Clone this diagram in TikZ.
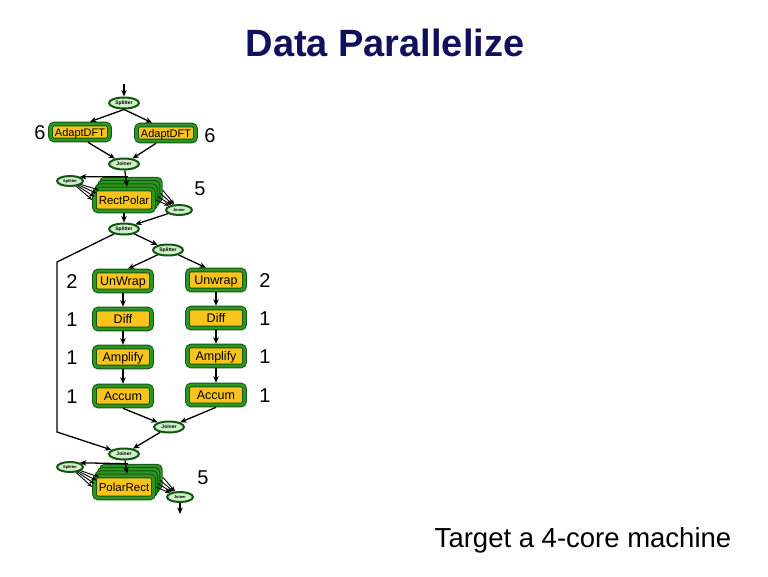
\documentclass[tikz,border=0pt]{standalone}
\usepackage{fontspec}
\setmainfont{Liberation Sans}
\usetikzlibrary{arrows.meta,shapes.geometric}
\definecolor{titleblue}{RGB}{16,16,92}
\definecolor{boxfill}{RGB}{248,196,28}
\definecolor{gborder}{RGB}{45,150,30}
\definecolor{gdark}{RGB}{20,85,20}
\definecolor{efill}{RGB}{205,240,200}
\begin{document}
\begin{tikzpicture}[x=1pt,y=-1pt,
  filt/.style={rectangle, rounded corners=3.5pt, fill=boxfill, draw=gdark, line width=4.6pt,
    minimum width=57pt, minimum height=20pt, inner sep=0pt, text height=0.8em, text depth=0pt,
    font=\fontsize{12.5}{12.5}\selectfont, postaction={draw=gborder, line width=2.7pt}},
  ell/.style={ellipse, fill=efill, draw=gdark, line width=2pt, minimum width=30pt,
    minimum height=11pt, inner sep=0pt, font=\fontsize{5}{5}\selectfont\bfseries},
  sell/.style={ell, minimum width=26pt, minimum height=10pt, font=\fontsize{4}{4}\selectfont\bfseries},
  arr/.style={-{Stealth[length=6.5pt,width=5.5pt]}, line width=1.3pt},
  farr/.style={-{Stealth[length=5pt,width=4pt]}, line width=0.9pt},
  num/.style={font=\fontsize{20}{20}\selectfont}
]
\useasboundingbox (0,0) rectangle (768,576);

% title and caption
\node[font=\fontsize{38}{38}\selectfont\bfseries, text=titleblue] (title) at (385,43) {Data Parallelize};
\node[font=\fontsize{27.5}{27.5}\selectfont] (target) at (583,540) {Target a 4-core machine};

% top splitjoin
\coordinate (in) at (124,84);
\node[ell] (s1) at (124,103) {Splitter};
\node[filt, minimum width=59pt, minimum height=16pt, font=\fontsize{11}{11}\selectfont] (a1) at (80,132) {AdaptDFT};
\node[filt, minimum width=59pt, minimum height=16pt, font=\fontsize{11}{11}\selectfont] (a2) at (166,133) {AdaptDFT};
\node[num] (n6a) at (40,133) {6};
\node[num] (n6b) at (210,136) {6};
\node[ell] (j1) at (124,164) {Joiner};
\draw[arr] (in) -- (s1);
\draw[arr] (s1.south) -- ([xshift=10pt]a1.north);
\draw[arr] (s1.south) -- ([xshift=-14pt]a2.north);
\draw[arr] ([xshift=8pt]a1.south) -- (j1);
\draw[arr] ([xshift=-10pt]a2.south) -- (j1);

% RectPolar stack
\foreach \k in {3,2,1}{
  \node[filt, minimum width=59pt, minimum height=22pt] (rp\k) at (124+2.3*\k, 200-3.3*\k) {};
}
\node[filt, minimum width=59pt, minimum height=22pt, font=\fontsize{11.5}{11.5}\selectfont] (rp0) at (124,200) {RectPolar};
\node[sell] (ls1) at (70,181) {Splitter};
\node[sell] (rs1) at (179,210) {Joiner};
\node[ell] (s2) at (124,229) {Splitter};
\node[num] (n5a) at (200,189) {5};
\draw[arr] (j1) -- ([xshift=3pt]rp0.north);
\draw[arr] ([xshift=-3pt]rp3.north) -- (ls1.north east);
\foreach \k in {0,1,2,3}{
  \draw[farr] (ls1) -- (rp\k.west);
  \draw[farr] (rp\k.east) -- (rs1);
}
\draw[arr] (rs1) -- (s2.north east);
\draw[arr] (rp0.south) -- (s2);

% middle splitjoin
\node[ell] (s3) at (168,250) {Splitter};
\coordinate (c1) at (57,262);
\coordinate (c2) at (57,432);
\node[ell] (j3) at (124,454) {Joiner};
\node[ell] (j2) at (169,427) {Joiner};
\draw[arr] (s2) -- (s3);
\draw[arr] (s2) -- (c1) -- (c2) -- (j3);

\node[filt] (L1) at (123,281) {UnWrap};
\node[filt] (L2) at (123,319) {Diff};
\node[filt] (L3) at (123,357) {Amplify};
\node[filt] (L4) at (123,396) {Accum};
\node[filt] (R1) at (216,280) {Unwrap};
\node[filt] (R2) at (216,318) {Diff};
\node[filt] (R3) at (216,356) {Amplify};
\node[filt] (R4) at (216,395) {Accum};
\node[num] (nl1) at (72,282) {2};
\node[num] (nl2) at (72,320) {1};
\node[num] (nl3) at (72,358) {1};
\node[num] (nl4) at (72,397) {1};
\node[num] (nr1) at (265,281) {2};
\node[num] (nr2) at (265,319) {1};
\node[num] (nr3) at (265,357) {1};
\node[num] (nr4) at (265,396) {1};
\draw[arr] (s3) -- ([xshift=5pt]L1.north);
\draw[arr] (s3) -- ([xshift=-10pt]R1.north);
\draw[arr] (L1) -- (L2);
\draw[arr] (L2) -- (L3);
\draw[arr] (L3) -- (L4);
\draw[arr] (R1) -- (R2);
\draw[arr] (R2) -- (R3);
\draw[arr] (R3) -- (R4);
\draw[arr] (L4.south) -- (j2);
\draw[arr] (R4.south) -- (j2);
\draw[arr] (j2) -- (j3);

% PolarRect stack
\foreach \k in {3,2,1}{
  \node[filt, minimum width=59pt, minimum height=22pt] (pr\k) at (124+2.3*\k, 487-3.3*\k) {};
}
\node[filt, minimum width=59pt, minimum height=22pt, font=\fontsize{11.5}{11.5}\selectfont] (pr0) at (124,487) {PolarRect};
\node[sell] (ls2) at (70,467) {Splitter};
\node[sell] (rs2) at (180,497) {Joiner};
\coordinate (out) at (180,514);
\node[num] (n5b) at (203,478) {5};
\draw[arr] (j3) -- ([xshift=3pt]pr0.north);
\draw[arr] ([xshift=-3pt]pr3.north) -- (ls2.north east);
\foreach \k in {0,1,2,3}{
  \draw[farr] (ls2) -- (pr\k.west);
  \draw[farr] (pr\k.east) -- (rs2);
}
\draw[arr] (rs2) -- (out);
\end{tikzpicture}
\end{document}
